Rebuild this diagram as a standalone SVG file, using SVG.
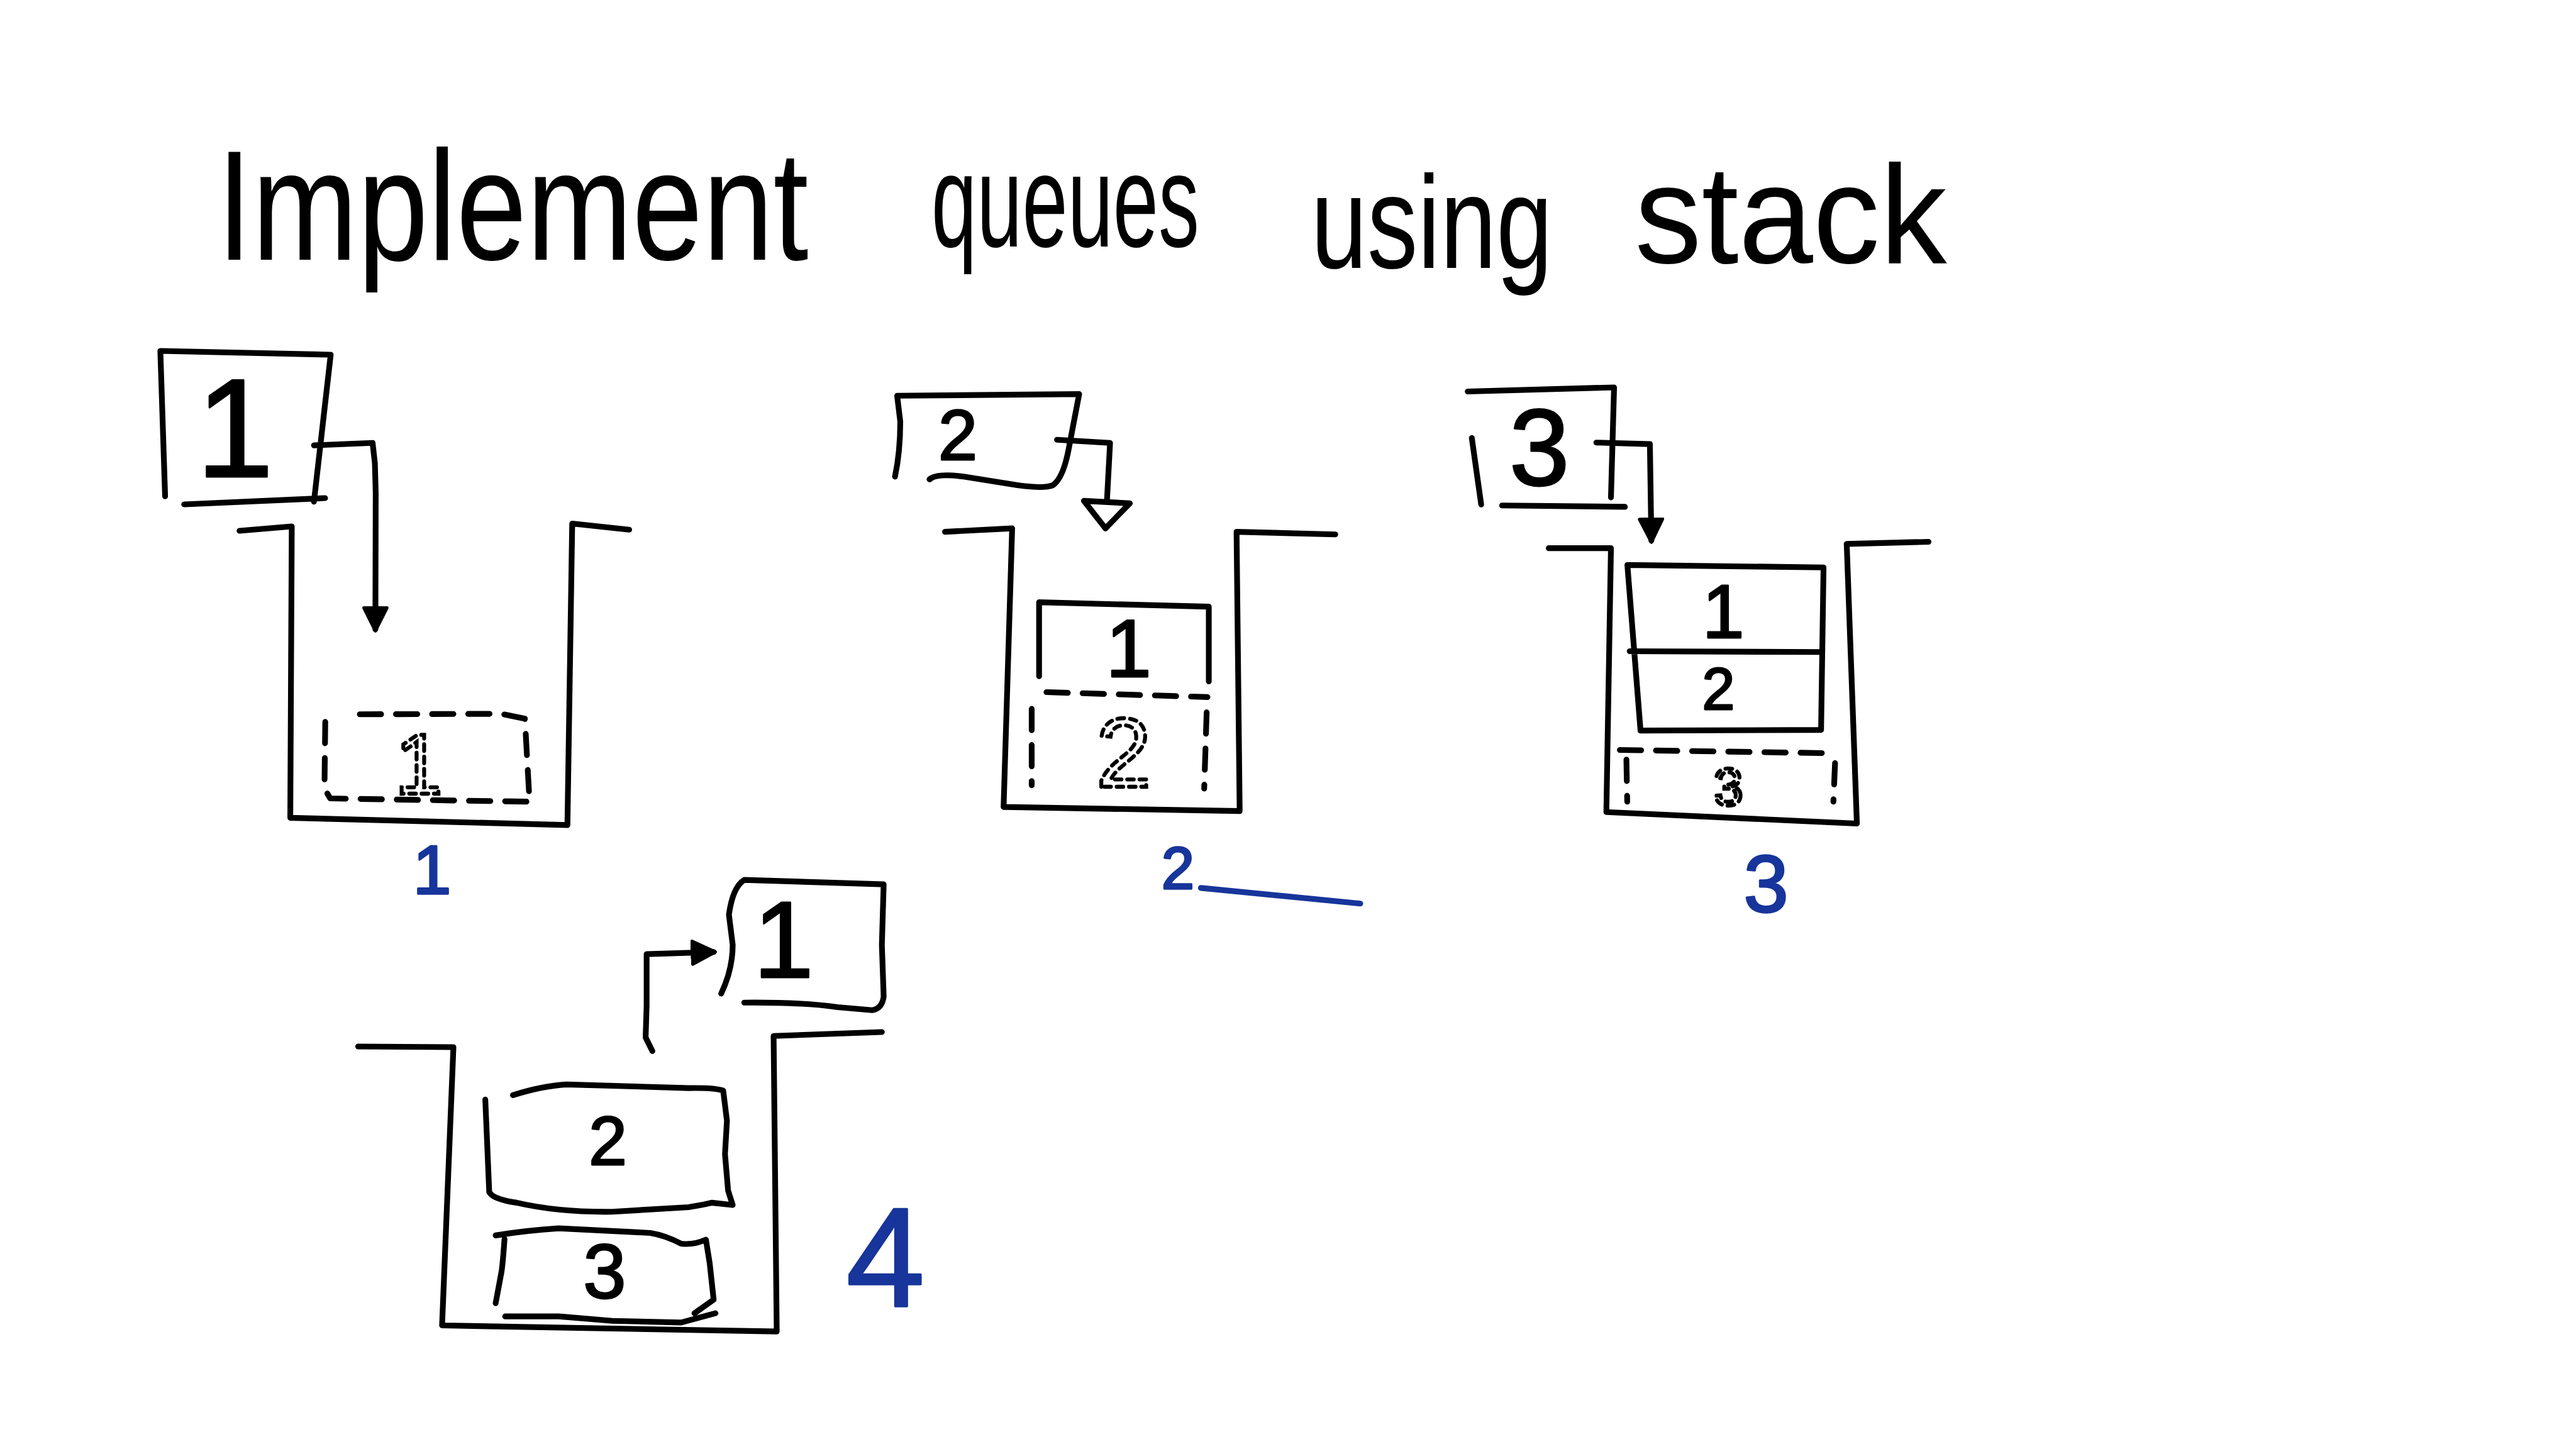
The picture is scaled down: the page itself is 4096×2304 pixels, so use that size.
<svg xmlns="http://www.w3.org/2000/svg" width="4096" height="2304" viewBox="0 0 4096 2304">
<style>
.ink{fill:none;stroke:#000;stroke-width:3.5;stroke-linecap:round;stroke-linejoin:round}
.dash{stroke-dasharray:13 9}
.t{font-family:"Liberation Sans","DejaVu Sans",sans-serif;fill:#000}
.d{font-family:"Liberation Sans","DejaVu Sans",sans-serif;text-anchor:middle;fill:#000;stroke:#000;stroke-width:1.1;stroke-linejoin:round}
.dot{font-family:"Liberation Sans","DejaVu Sans",sans-serif;text-anchor:middle;fill:none;stroke:#000;stroke-width:2.4;stroke-dasharray:4 3.5;stroke-linecap:round}
.blue{font-family:"Liberation Sans","DejaVu Sans",sans-serif;text-anchor:middle;fill:#17359a;stroke:#17359a;stroke-width:1.3;stroke-linejoin:round}
.bl{fill:none;stroke:#17359a;stroke-width:3.5;stroke-linecap:round}
</style>
<defs>
<marker id="fill" viewBox="0 0 16 16" markerUnits="userSpaceOnUse" markerWidth="16" markerHeight="16" refX="14" refY="8" orient="auto">
<path d="M1,1 L15,8 L1,15 Z" fill="#000" stroke="#000" stroke-width="2" stroke-linejoin="round"/>
</marker>
<marker id="hollow" viewBox="0 0 20 32" markerUnits="userSpaceOnUse" markerWidth="20" markerHeight="32" refX="18" refY="16" orient="auto">
<path d="M2,2 L18,16 L2,30 Z" fill="#fff" stroke="#000" stroke-width="3.5" stroke-linejoin="round"/>
</marker>
</defs>
<rect width="4096" height="2304" fill="#fff"/>
<g transform="scale(2.6122)">
<g id="title">
<text class="t" transform="translate(132,158) scale(0.812,1)" font-size="95">Implement</text>
<text class="t" transform="translate(567,150) scale(0.621,1)" font-size="80">queues</text>
<text class="t" transform="translate(798,163) scale(0.769,1)" font-size="80">using</text>
<text class="t" transform="translate(995,160) scale(0.958,1)" font-size="85">stack</text>
</g>

<g id="step1">
<g id="step1-item">
<path class="ink" d="M100.5,302.1 L97.6,213.6 L201.3,215.9 L191.1,305.4 M112.1,307 L197.9,303.2"/>
<text class="d" x="143" y="290" font-size="85">1</text>
</g>
<g id="step1-stack">
<path class="ink" d="M145.8,323.1 L177.6,320.4 L176.7,497.8 L345.4,502.2 L348.3,318.7 L383,322.4"/>
<path class="ink dash" d="M219,434.8 L305,434.5 L319.5,437.5 L322,482 L323,488 L260,487 L201,486 L197.5,480 L198,438"/>
<text class="dot" x="255" y="483" font-size="52">1</text>
</g>
<text class="blue" x="263" y="544" font-size="42">1</text>
</g>

<g id="step2">
<g id="step2-item">
<path class="ink" d="M544.8,290.1 Q548,275 548,256.6 L546.1,240.9 L656.9,239.9 L650.3,274.4 Q647,291 640.9,295.4 Q634,298 612.8,294.3 L586.5,290.1 Q570,288 565.8,291.8"/>
<text class="d" x="583" y="280" font-size="43">2</text>
</g>
<g id="step2-stack">
<path class="ink" d="M575.2,323.7 L616.1,321.6 L610.9,491.2 L754.6,493.7 L752.7,323.7 L812.8,325.3"/>
<path class="ink" d="M632.5,411.6 L632.5,366.6 L735.8,369.3 L735.8,414.8"/>
<text class="d" x="687" y="412" font-size="50">1</text>
<path class="ink dash" d="M637,421.3 L735,424.3 M628,431.5 L628,478 M734.5,433.6 L733,480"/>
<text class="dot" x="684" y="479" font-size="60">2</text>
</g>
<text class="blue" x="717" y="541" font-size="36">2</text>
<path class="bl" d="M731,540.5 L828,550"/>
</g>

<g id="step3">
<g id="step3-item">
<path class="ink" d="M893.4,238.3 L982.5,235.8 L980.6,302.8 M914.3,307.7 L989.1,308.5 M895.9,266.6 L901.6,307.1"/>
<text class="d" x="937" y="295" font-size="66">3</text>
</g>
<g id="step3-stack">
<path class="ink" d="M942.7,333.7 L980.6,333.7 L977.8,494.3 L1130.3,501.3 L1124.1,331.1 L1173.9,329.8"/>
<path class="ink" d="M990.6,343.9 L1110,345.4 L1108.5,444.3 L998.6,444.7 Z M992,396.4 L1108.5,396.9"/>
<text class="d" x="1049" y="388" font-size="46">1</text>
<text class="d" x="1046" y="432" font-size="36">2</text>
<path class="ink dash" d="M986,456.5 L1115,458.5 M990,462.4 L990.5,488 M1117,464.5 L1116,488"/>
<text class="dot" x="1052" y="490" font-size="32">3</text>
</g>
<text class="blue" x="1075" y="555" font-size="49">3</text>
</g>

<g id="step4">
<g id="step4-stack">
<path class="ink" d="M218,637 L276,637.4 L269.1,806.8 L472.8,810.5 L470.9,630.6 L536.8,628.2"/>
<path class="ink" d="M295.4,669.3 L297.8,725.6 Q300,730 314.5,732.1 Q340,738 372.7,737.6 L419.2,734.8 Q430,733 433.2,732.1 L446,733.5 L443.2,724.7 L441.3,702.5 L442.5,682.2 L440.2,663.8 Q435,662 419.2,662.3 L344.8,660.1 Q330,661 312.2,666.6"/>
<text class="d" x="370" y="709" font-size="42">2</text>
<path class="ink" d="M301.7,752 Q320,749 340.1,747.7 L395.9,750.5 Q405,752 414.6,757 Q422,758 429.7,754.6 L432,769 L434.4,791.1 L422.7,799.4 M307.1,754.2 Q306,770 305.2,774.5 L301.7,793.3 M307.5,801.3 L340.1,801.3 L372.7,804 L414.6,805 L435.5,799.4"/>
<text class="d" x="368" y="790" font-size="47">3</text>
</g>
<g id="step4-item">
<path class="ink" d="M439,604.8 Q446,590 446,575.2 L443.7,556.8 Q446,540 453,535.6 L537.9,538.3 L536.8,575.2 L537.9,606.6 Q537,614 530.9,614.9 L510,613.1 Q490,610 453,610.3"/>
<text class="d" x="477" y="595" font-size="66">1</text>
</g>
<text class="blue" x="539" y="795" font-size="86">4</text>
</g>

<g id="connectors">
<path class="ink" d="M191.1,271.1 L226.8,269.6 L228.2,282 L228.7,300 L228.5,383" marker-end="url(#fill)"/>
<path class="ink" d="M643.4,267.7 L675.7,269.6 L672.9,321.6" marker-end="url(#hollow)"/>
<path class="ink" d="M971.7,269.4 L1004.3,270.3 L1005.2,329" marker-end="url(#fill)"/>
<path class="ink" d="M397.1,639.8 L393,631.5 L393.6,612.1 L393.6,580.8 L434.4,579.5" marker-end="url(#fill)"/>
</g>
</g>
</svg>
